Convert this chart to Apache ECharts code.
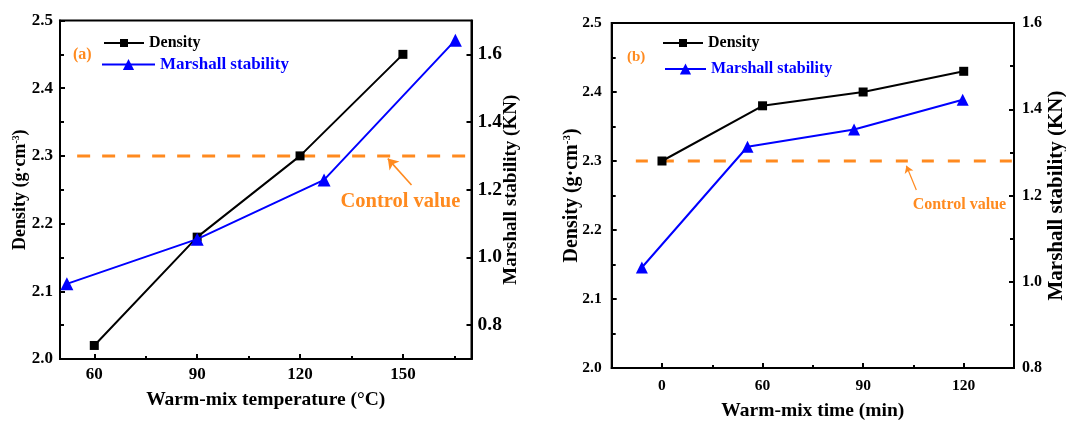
<!DOCTYPE html>
<html><head><meta charset="utf-8">
<script src="https://cdn.jsdelivr.net/npm/echarts@6/dist/echarts.min.js"></script>
<style>
html,body{margin:0;padding:0;background:#fff;}
#wrap{position:relative;width:1066px;height:423px;overflow:hidden;}
#a,#b{position:absolute;top:0;width:533px;height:423px;}
#a{left:0;} #b{left:533px;}
</style>
</head><body>
<div id="wrap"><div id="a"></div><div id="b"></div></div>
<script>
// ---------- Chart (a): warm-mix temperature ----------
const tempTicks = [60, 90, 120, 150];
const tempMinorTicks = [75, 105, 135, 165];
const densityTempX = [60, 90, 120, 150];
const densityA = [2.02, 2.18, 2.30, 2.45];
const marshallTempX = [52, 90, 127, 165.3];
const marshallA = [0.922, 1.054, 1.229, 1.642];
const stabilityTicksA = [0.8, 1.0, 1.2, 1.4, 1.6];
const controlValue = 2.30;
const controlExtentA = [55, 170];
const arrowA = [[152.5, 2.257], [145.6, 2.296]];
const labelPosA = [149.25, 2.233];

// ---------- Chart (b): warm-mix time ----------
const timeLabels = ['0', '60', '90', '120'];
const timeTicks = [0, 1, 2, 3];
const timeMinorTicks = [0.5, 1.5, 2.5];
const densityTimeX = [0, 1, 2, 3];
const densityB = [2.30, 2.38, 2.40, 2.43];
const marshallTimeX = [-0.2, 0.85, 1.91, 2.99];
const marshallB = [1.033, 1.313, 1.353, 1.422];
const controlExtentB = [-0.26, 3.5];
const arrowB = [[2.529, 2.258], [2.430, 2.293]];
const labelPosB = [2.957, 2.236];

const FONT = '"Liberation Serif","Times New Roman",serif';
const ORANGE = '#ff8a1f';
const BLUE = '#0000ff';
const BLACK = '#000000';

function zip(xs, ys) { return xs.map((x, i) => [x, ys[i]]); }

function build(c) {
  const tickLine = { color: BLACK, width: 2 };
  const lbl = (size, margin) => ({ color: BLACK, fontFamily: FONT, fontWeight: 'bold', fontSize: size, margin: margin });
  return {
    animation: false,
    backgroundColor: '#fff',
    title: {
      text: c.tag, left: c.tagPos[0], top: c.tagPos[1], padding: 0,
      textStyle: { color: ORANGE, fontFamily: FONT, fontWeight: 'bold', fontSize: c.tagSize }
    },
    legend: [
      {
        data: ['Density'], left: c.leg1[0], top: c.leg1[1], padding: 0,
        itemWidth: c.leg1[2], itemHeight: 10,
        textStyle: { color: BLACK, fontFamily: FONT, fontWeight: 'bold', fontSize: c.leg1[3] }
      },
      {
        data: ['Marshall stability'], left: c.leg2[0], top: c.leg2[1], padding: 0,
        itemWidth: c.leg2[2], itemHeight: 14,
        textStyle: { color: BLUE, fontFamily: FONT, fontWeight: 'bold', fontSize: c.leg2[3] }
      }
    ],
    grid: Object.assign({ containLabel: false, outerBoundsMode: 'none', show: true, borderColor: BLACK, borderWidth: 2 }, c.grid),
    xAxis: [
      {
        type: 'value', min: c.xmin, max: c.xmax, position: 'bottom',
        name: c.xName, nameLocation: 'middle', nameGap: c.xNameGap, nameMoveOverlap: false,
        nameTextStyle: { color: BLACK, fontFamily: FONT, fontWeight: 'bold', fontSize: 19.5 },
        axisLine: { onZero: false, lineStyle: { color: BLACK, width: 2 } },
        axisTick: { inside: true, length: 5, lineStyle: tickLine, customValues: c.xTicks },
        axisLabel: Object.assign(lbl(c.xLabelSize, c.xLabelMargin), { customValues: c.xTicks, formatter: c.xFmt }),
        splitLine: { show: false }
      },
      {
        type: 'value', min: c.xmin, max: c.xmax, position: 'bottom',
        axisLine: { show: false, onZero: false },
        axisTick: { inside: true, length: 3, lineStyle: tickLine, customValues: c.xMinor },
        axisLabel: { show: false },
        splitLine: { show: false }
      }
    ],
    yAxis: [
      {
        type: 'value', min: 2.0, max: 2.5, interval: 0.1, position: 'left',
        name: 'Density (g·cm{s|-3})', nameLocation: 'middle', nameGap: c.yNameGap, nameRotate: 90, nameMoveOverlap: false,
        nameTextStyle: {
          color: BLACK, fontFamily: FONT, fontWeight: 'bold', fontSize: c.yNameSize,
          rich: { s: { color: BLACK, fontFamily: FONT, fontWeight: 'bold', fontSize: c.yNameSize * 0.55, verticalAlign: 'top' } }
        },
        axisLine: { onZero: false, lineStyle: { color: BLACK, width: 2 } },
        axisTick: { inside: true, length: 5, lineStyle: tickLine },
        minorTick: { show: true, splitNumber: 2, length: 4, lineStyle: tickLine },
        axisLabel: Object.assign(lbl(c.yLabelSize, c.yLabelMargin), { formatter: v => v.toFixed(1) }),
        splitLine: { show: false }, minorSplitLine: { show: false }
      },
      Object.assign({
        type: 'value', position: 'right',
        name: 'Marshall stability (KN)', nameLocation: 'middle', nameGap: c.y2NameGap, nameRotate: 90, nameMoveOverlap: false,
        nameTextStyle: { color: BLACK, fontFamily: FONT, fontWeight: 'bold', fontSize: c.y2NameSize },
        axisLine: { onZero: false, lineStyle: { color: BLACK, width: 2 } },
        splitLine: { show: false }, minorSplitLine: { show: false }
      }, c.y2)
    ],
    series: [
      {
        type: 'line', name: 'Control', xAxisIndex: 0, yAxisIndex: 0, silent: true, z: 1,
        data: [[c.ctrl[0], controlValue], [c.ctrl[1], controlValue]],
        symbol: 'none',
        lineStyle: { color: ORANGE, width: 3, type: c.dash },
        markLine: {
          silent: true, animation: false,
          symbol: 'none',
          lineStyle: { color: ORANGE, width: c.arrowWidth, type: 'solid' },
          label: { show: false },
          data: [[
            { coord: c.arrow[0], symbol: 'none' },
            { coord: c.arrow[1], symbol: 'arrow', symbolSize: c.arrowSize }
          ]]
        },
        markPoint: {
          silent: true, animation: false,
          symbol: 'circle', symbolSize: 1,
          itemStyle: { color: 'rgba(0,0,0,0)' },
          label: {
            show: true, position: 'inside', formatter: 'Control value',
            color: ORANGE, fontFamily: FONT, fontWeight: 'bold', fontSize: c.ctrlSize
          },
          data: [{ coord: c.ctrlLabel }]
        }
      },
      {
        type: 'line', name: 'Density', xAxisIndex: 0, yAxisIndex: 0, z: 3,
        data: zip(c.dx, c.dy),
        symbol: 'rect', symbolSize: c.sq,
        itemStyle: { color: BLACK },
        lineStyle: { color: BLACK, width: 2 }
      },
      {
        type: 'line', name: 'Marshall stability', xAxisIndex: 0, yAxisIndex: 1, z: 4,
        data: zip(c.mx, c.my),
        symbol: 'triangle', symbolSize: c.tri,
        itemStyle: { color: BLUE },
        lineStyle: { color: BLUE, width: 2 }
      }
    ]
  };
}

const optA = build({
  tag: '(a)', tagPos: [73, 47], tagSize: 16,
  leg1: [103, 35, 40, 16], leg2: [101, 56, 53, 17],
  grid: { left: 60, right: 61.5, top: 20.5, bottom: 64 },
  xmin: 50, xmax: 170, xTicks: tempTicks, xMinor: tempMinorTicks, xFmt: v => String(v),
  xName: 'Warm-mix temperature (°C)', xNameGap: 31, xLabelSize: 17, xLabelMargin: 7,
  yNameGap: 31, yNameSize: 18, yLabelSize: 17, yLabelMargin: 7,
  y2NameGap: 30, y2NameSize: 19,
  y2: {
    min: 0.7, max: 1.7,
    axisTick: { inside: true, length: 5, lineStyle: { color: BLACK, width: 2 }, customValues: stabilityTicksA },
    axisLabel: { customValues: stabilityTicksA, formatter: v => v.toFixed(1), color: BLACK, fontFamily: FONT, fontWeight: 'bold', fontSize: 19.5, margin: 6 }
  },
  ctrl: controlExtentA, dash: [13, 12], arrow: arrowA, arrowSize: 10, arrowWidth: 1.6,
  ctrlLabel: labelPosA, ctrlSize: 20.5,
  dx: densityTempX, dy: densityA, mx: marshallTempX, my: marshallA, sq: 9, tri: 13
});

const optB = build({
  tag: '(b)', tagPos: [94, 50], tagSize: 15,
  leg1: [129, 35, 40, 16], leg2: [131, 61, 41, 16],
  grid: { left: 78.7, right: 52, top: 23, bottom: 55 },
  xmin: -0.5, xmax: 3.5, xTicks: timeTicks, xMinor: timeMinorTicks, xFmt: v => timeLabels[Math.round(v)],
  xName: 'Warm-mix time (min)', xNameGap: 32.5, xLabelSize: 15.5, xLabelMargin: 9.5,
  yNameGap: 30, yNameSize: 20, yLabelSize: 15.5, yLabelMargin: 10,
  y2NameGap: 32, y2NameSize: 21,
  y2: {
    min: 0.8, max: 1.6, interval: 0.2,
    axisTick: { inside: true, length: 5, lineStyle: { color: BLACK, width: 2 } },
    minorTick: { show: true, splitNumber: 2, length: 4, lineStyle: { color: BLACK, width: 2 } },
    axisLabel: { formatter: v => v.toFixed(1), color: BLACK, fontFamily: FONT, fontWeight: 'bold', fontSize: 16, margin: 8 }
  },
  ctrl: controlExtentB, dash: [12, 14], arrow: arrowB, arrowSize: 7, arrowWidth: 1.2,
  ctrlLabel: labelPosB, ctrlSize: 16,
  dx: densityTimeX, dy: densityB, mx: marshallTimeX, my: marshallB, sq: 9, tri: 12
});

echarts.init(document.getElementById('a'), null, { renderer: 'canvas' }).setOption(optA);
echarts.init(document.getElementById('b'), null, { renderer: 'canvas' }).setOption(optB);
</script>
</body></html>
